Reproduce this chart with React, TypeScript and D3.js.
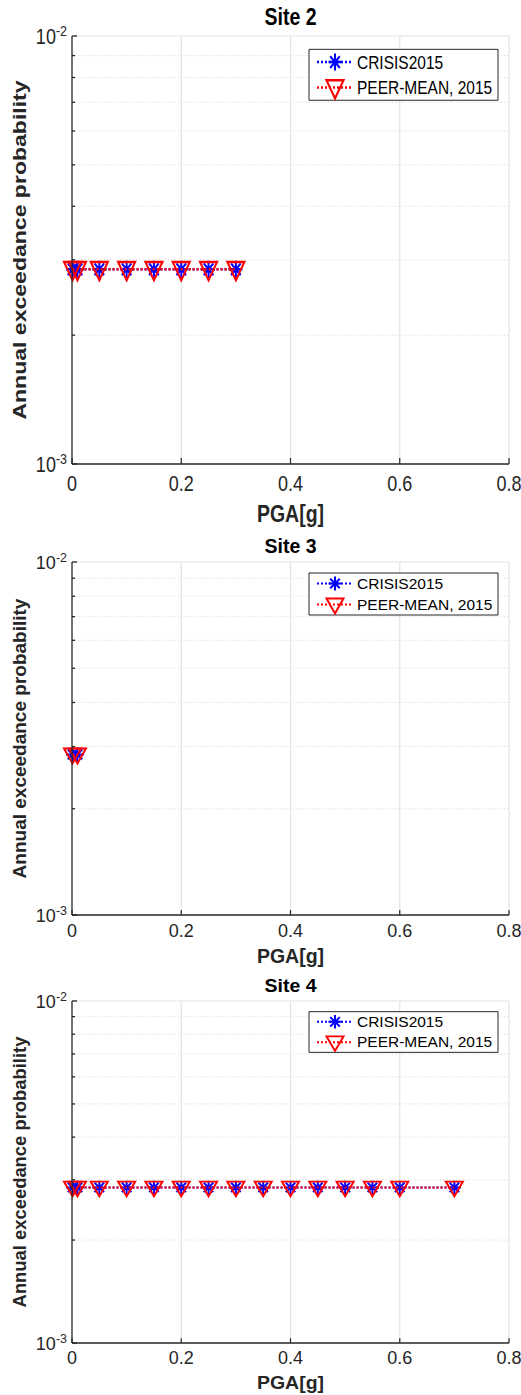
import React from 'react';
import * as d3 from 'd3';

// tick values
const xTicks = [0, 0.2, 0.4, 0.6, 0.8];
const yMajor = [1e-3, 1e-2];
const yMinor = [2e-3, 3e-3, 4e-3, 5e-3, 6e-3, 7e-3, 8e-3, 9e-3];
const yTickExp = ['-3', '-2'];

const seriesNames = ['CRISIS2015', 'PEER-MEAN, 2015'];
const siteTitles = ['Site 2', 'Site 3', 'Site 4'];

// Site 2
const site2Pga = [0.001, 0.01, 0.05, 0.1, 0.15, 0.2, 0.25, 0.3];
const site2Crisis = [2.85e-3, 2.85e-3, 2.85e-3, 2.85e-3, 2.85e-3, 2.85e-3, 2.85e-3, 2.85e-3];
const site2Peer = [2.85e-3, 2.85e-3, 2.85e-3, 2.85e-3, 2.85e-3, 2.85e-3, 2.85e-3, 2.85e-3];

// Site 3
const site3Pga = [0.001, 0.01];
const site3Crisis = [2.85e-3, 2.85e-3];
const site3Peer = [2.85e-3, 2.85e-3];

// Site 4
const site4Pga = [0.001, 0.01, 0.05, 0.1, 0.15, 0.2, 0.25, 0.3, 0.35, 0.4, 0.45, 0.5, 0.55, 0.6, 0.7];
const site4Crisis = [2.85e-3, 2.85e-3, 2.85e-3, 2.85e-3, 2.85e-3, 2.85e-3, 2.85e-3, 2.85e-3,
  2.85e-3, 2.85e-3, 2.85e-3, 2.85e-3, 2.85e-3, 2.85e-3, 2.85e-3];
const site4Peer = [2.85e-3, 2.85e-3, 2.85e-3, 2.85e-3, 2.85e-3, 2.85e-3, 2.85e-3, 2.85e-3,
  2.85e-3, 2.85e-3, 2.85e-3, 2.85e-3, 2.85e-3, 2.85e-3, 2.85e-3];

const siteData = [
  { pga: site2Pga, crisis: site2Crisis, peer: site2Peer },
  { pga: site3Pga, crisis: site3Crisis, peer: site3Peer },
  { pga: site4Pga, crisis: site4Crisis, peer: site4Peer },
];

// layout: each panel is drawn in a base box and stretched vertically
const BASE_H = 353;
const panelTops = [36, 562, 1001];
const panelHeights = [428, 353, 342];
const PLOT_L = 72;
const PLOT_R = 509;
const FONT = '"Liberation Sans", Arial, Helvetica, sans-serif';
const AX = '#262626';

const x = d3.scaleLinear().domain([0, 0.8]).range([PLOT_L, PLOT_R]);
const y = d3.scaleLog().domain([1e-3, 1e-2]).range([BASE_H, 0]);

const asteriskPath = 'M-6.5,0L6.5,0M0,-7L0,7M-4.8,-4.8L4.8,4.8M-4.8,4.8L4.8,-4.8';
const trianglePath = 'M-8.5,-6L8.5,-6L0,9Z';

const Asterisk = ({ cx, cy }) => (
  <path d={asteriskPath} transform={`translate(${cx},${cy})`} stroke="#0000ff" strokeWidth={2} fill="none" />
);
const Triangle = ({ cx, cy }) => (
  <path d={trianglePath} transform={`translate(${cx},${cy})`} stroke="#ff0000" strokeWidth={2} fill="none" />
);

const Panel = ({ idx }) => {
  const top = panelTops[idx];
  const sy = panelHeights[idx] / BASE_H;
  const d = siteData[idx];
  const crisisPts = d.pga.map((p, i) => [x(p), y(d.crisis[i])]);
  const peerPts = d.pga.map((p, i) => [x(p), y(d.peer[i])]);
  const line = d3.line();
  const legX = 309, legW = 189, legY = 11, legH = 42;

  return (
    <g transform={`translate(0,${top}) scale(1,${sy})`}>
      {/* minor grid */}
      {yMinor.map(v => (
        <line key={'mg' + v} x1={PLOT_L} x2={PLOT_R} y1={y(v)} y2={y(v)}
          stroke="#d4d4d4" strokeDasharray="1 2.2" vectorEffect="non-scaling-stroke" />
      ))}
      {/* major grid */}
      {xTicks.slice(1).map(v => (
        <line key={'xg' + v} x1={x(v)} x2={x(v)} y1={0} y2={BASE_H} stroke="#e3e3e3" strokeWidth={1.2} />
      ))}
      <line x1={PLOT_L} x2={PLOT_R} y1={y(1e-2)} y2={y(1e-2)} stroke="#e3e3e3" vectorEffect="non-scaling-stroke" />

      {/* data: CRISIS */}
      <path d={line(crisisPts)} fill="none" stroke="#0000ff" strokeWidth={2} strokeDasharray="2 2" />
      {crisisPts.map((p, i) => <Asterisk key={'a' + i} cx={p[0]} cy={p[1]} />)}
      {/* data: PEER */}
      <path d={line(peerPts)} fill="none" stroke="#ff0000" strokeWidth={2} strokeDasharray="2 2" />
      {peerPts.map((p, i) => <Triangle key={'t' + i} cx={p[0]} cy={p[1]} />)}

      {/* axes */}
      <line x1={PLOT_L} x2={PLOT_L} y1={0} y2={BASE_H} stroke={AX} strokeWidth={1.3} />
      <line x1={PLOT_L} x2={PLOT_R} y1={BASE_H} y2={BASE_H} stroke={AX} strokeWidth={1.3} vectorEffect="non-scaling-stroke" />
      {xTicks.map(v => (
        <line key={'xt' + v} x1={x(v)} x2={x(v)} y1={BASE_H} y2={BASE_H - 5} stroke={AX} strokeWidth={1.2} />
      ))}
      {yMajor.map(v => (
        <line key={'yt' + v} x1={PLOT_L} x2={PLOT_L + 5} y1={y(v)} y2={y(v)} stroke={AX} strokeWidth={1.3}
          vectorEffect="non-scaling-stroke" />
      ))}
      {yMinor.map(v => (
        <line key={'ym' + v} x1={PLOT_L} x2={PLOT_L + 3} y1={y(v)} y2={y(v)} stroke={AX} strokeWidth={1.3}
          vectorEffect="non-scaling-stroke" />
      ))}

      {/* tick labels */}
      {xTicks.map(v => (
        <text key={'xl' + v} x={x(v)} y={BASE_H + 22} textAnchor="middle" fontSize={18} fill={AX}>
          {v === 0 ? '0' : d3.format('.1f')(v)}
        </text>
      ))}
      {yMajor.map((v, i) => (
        <text key={'yl' + v} x={67} y={y(v) + 7} textAnchor="end" fontSize={18} fill={AX}>
          10<tspan fontSize={12.5} dy={-7}>{yTickExp[i]}</tspan>
        </text>
      ))}

      {/* labels */}
      <text x={(PLOT_L + PLOT_R) / 2} y={-9} textAnchor="middle" fontSize={19.5} fontWeight="bold" fill="#000">
        {siteTitles[idx]}
      </text>
      <text x={(PLOT_L + PLOT_R) / 2} y={BASE_H + 48} textAnchor="middle" fontSize={19.5} fontWeight="bold" fill={AX}>
        PGA[g]
      </text>
      <text transform={`translate(26,${BASE_H / 2}) rotate(-90)`} textAnchor="middle" fontSize={19}
        fontWeight="bold" fill={AX}>
        Annual exceedance probability
      </text>

      {/* legend */}
      <rect x={legX} y={legY} width={legW} height={legH} fill="#fff" stroke={AX} strokeWidth={1}
        vectorEffect="non-scaling-stroke" />
      <line x1={317} x2={352} y1={legY + 10.5} y2={legY + 10.5} stroke="#0000ff" strokeWidth={2} strokeDasharray="2 2" />
      <Asterisk cx={335} cy={legY + 10.5} />
      <text x={357} y={legY + 16} fontSize={15.5} fill="#000">{seriesNames[0]}</text>
      <line x1={317} x2={352} y1={legY + 31.5} y2={legY + 31.5} stroke="#ff0000" strokeWidth={2} strokeDasharray="2 2" />
      <Triangle cx={335} cy={legY + 31.5} />
      <text x={357} y={legY + 37} fontSize={15.5} fill="#000">{seriesNames[1]}</text>
    </g>
  );
};

export default function App() {
  return (
    <div>
      <style>{'body{margin:0;background:#fff}'}</style>
      <svg width={521} height={1395} style={{ display: 'block', fontFamily: FONT }}>
        <rect width={521} height={1395} fill="#fff" />
        {[0, 1, 2].map(i => <Panel key={i} idx={i} />)}
      </svg>
    </div>
  );
}
